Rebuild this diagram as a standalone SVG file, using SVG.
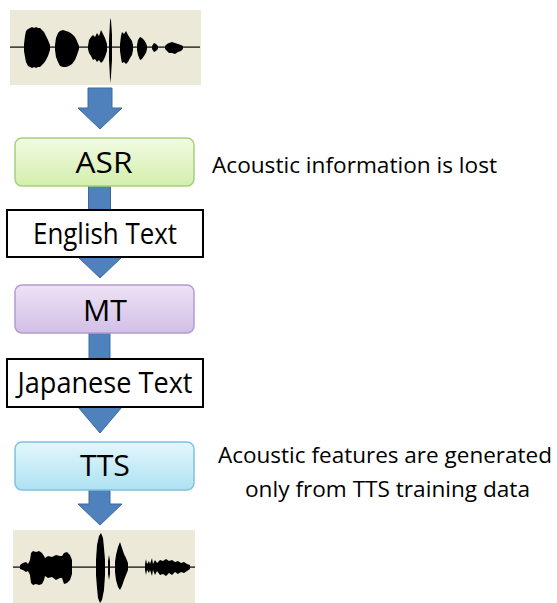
<svg xmlns="http://www.w3.org/2000/svg" width="557" height="603" viewBox="0 0 557 603">
<defs>
<linearGradient id="gAsr" x1="0" y1="0" x2="0" y2="1"><stop offset="0" stop-color="#f2fbe3"/><stop offset="1" stop-color="#d3eeac"/></linearGradient>
<linearGradient id="gMt" x1="0" y1="0" x2="0" y2="1"><stop offset="0" stop-color="#ede3f5"/><stop offset="1" stop-color="#d2bfe7"/></linearGradient>
<linearGradient id="gTts" x1="0" y1="0" x2="0" y2="1"><stop offset="0" stop-color="#e4f6fc"/><stop offset="1" stop-color="#ade2f3"/></linearGradient>
</defs>
<style>
.lbl{font-family:"Open Sans","Liberation Sans",sans-serif;font-size:29px;fill:#000;text-anchor:middle}
.side{font-family:"Open Sans","Liberation Sans",sans-serif;font-size:22px;fill:#000}
.arrow{fill:#4f81bd;stroke:#3c6a9e;stroke-width:1}
.wbg{fill:#ece9d9}
.wave{fill:#000}
.txtbox{fill:#fff;stroke:#000;stroke-width:2}
</style>
<rect width="557" height="603" fill="#fff"/>
<g id="connectors">
<path class="arrow" d="M88 88 H112 V108 H122 L100 129 L78 108 H88 Z"/>
<path class="arrow" d="M88.5 186 H110.5 V257 H122 L100 278 L78 257 H88.5 Z"/>
<path class="arrow" d="M89 333 H110 V407 H122 L100 433 L78 407 H89 Z"/>
<path class="arrow" d="M89 490 H110 V504 H122 L100 525 L78 504 H89 Z"/>
</g>
<g id="waveform-in">
<rect class="wbg" x="10" y="10" width="191" height="75"/>
<rect class="wave" x="10" y="46.5" width="190" height="1.2"/>
<path class="wave" d="M24 44 L25 36 L26 31 L28 29 L30 28 L32 27 L34 28 L36 27 L38 28 L40 28 L42 30 L44 32 L46 36 L48 40 L50 45 L50 50 L48 56 L46 60 L44 63 L42 65 L40 67 L38 67 L36 68 L34 67 L32 68 L30 67 L28 66 L26 62 L25 57 L24 51 Z"/>
<path class="wave" d="M55 45 L56 38 L58 33 L60 31 L63 30 L66 31 L69 32 L72 34 L75 37 L77 41 L79 46 L79 49 L77 55 L75 60 L72 64 L69 66 L66 67 L63 67 L60 66 L58 62 L56 57 L55 50 Z"/>
<path class="wave" d="M88 46 L89 40 L91 37 L93 35 L95 37 L97 33 L99 36 L101 30 L103 34 L105 38 L107 44 L107 51 L105 57 L103 61 L101 63 L99 60 L97 62 L95 59 L93 60 L91 56 L89 53 L88 49 Z"/>
<path class="wave" d="M109 40 L110 22 L110.5 18 L111 20 L112 35 L112 60 L111 76 L110.5 83 L110 78 L109 60 Z"/>
<path class="wave" d="M120 44 L121 36 L122 32 L124 34 L126 31 L128 35 L130 38 L132 41 L133 45 L133 50 L132 55 L130 58 L128 62 L126 64 L124 62 L122 63 L121 58 L120 51 Z"/>
<path class="wave" d="M137 45 L138 40 L140 37 L142 38 L144 40 L146 43 L147 46 L147 49 L146 53 L144 56 L142 59 L140 60 L138 55 L137 50 Z"/>
<path class="wave" d="M152 46 L154 43 L156 44 L158 46 L158 49 L156 51 L154 52 L152 49 Z"/>
<path class="wave" d="M165 46 L167 44 L169 43 L172 42 L175 43 L178 44 L181 45 L183 46 L183 49 L181 51 L178 52 L175 54 L172 53 L169 53 L167 51 L165 49 Z"/>
</g>
<g id="asr">
<rect x="15" y="138" width="179" height="48" rx="7" fill="url(#gAsr)" stroke="#a6cf7e" stroke-width="1.5"/>
<text class="lbl" x="104" y="173" textLength="57" lengthAdjust="spacingAndGlyphs">ASR</text>
</g>
<g id="note-asr">
<text class="side" x="212" y="173" textLength="285" lengthAdjust="spacingAndGlyphs">Acoustic information is lost</text>
</g>
<g id="english-text">
<rect class="txtbox" x="7" y="210" width="196" height="47"/>
<text class="lbl" x="105" y="244" textLength="144" lengthAdjust="spacingAndGlyphs">English Text</text>
</g>
<g id="mt">
<rect x="15" y="285" width="179" height="48" rx="7" fill="url(#gMt)" stroke="#b49bd1" stroke-width="1.5"/>
<text class="lbl" x="105" y="321" textLength="44" lengthAdjust="spacingAndGlyphs">MT</text>
</g>
<g id="japanese-text">
<rect class="txtbox" x="7" y="359" width="196" height="48"/>
<text class="lbl" x="105" y="393" textLength="175" lengthAdjust="spacingAndGlyphs">Japanese Text</text>
</g>
<g id="tts">
<rect x="15" y="442" width="179" height="48" rx="7" fill="url(#gTts)" stroke="#7dc4dc" stroke-width="1.5"/>
<text class="lbl" x="105" y="476" textLength="50" lengthAdjust="spacingAndGlyphs">TTS</text>
</g>
<g id="note-tts">
<text class="side" x="218" y="463" textLength="334" lengthAdjust="spacingAndGlyphs">Acoustic features are generated</text>
<text class="side" x="245" y="497" textLength="285" lengthAdjust="spacingAndGlyphs">only from TTS training data</text>
</g>
<g id="waveform-out">
<rect class="wbg" x="13" y="530" width="182" height="73"/>
<rect class="wave" x="13" y="566.5" width="182" height="1.2"/>
<path class="wave" d="M20 565 L23 563 L26 562 L28 564 L30 560 L31 553 L33 551 L36 552 L39 551 L42 553 L44 556 L45 558 L48 556 L52 557 L56 555 L60 556 L62 556 L64 553 L67 552 L70 555 L72 560 L72 574 L70 580 L67 583 L64 584 L62 578 L60 578 L56 580 L52 577 L48 578 L45 576 L44 580 L42 584 L39 585 L36 584 L33 585 L31 583 L30 575 L28 571 L26 572 L23 570 L20 569 Z"/>
<path class="wave" d="M96 560 L97 545 L99 536 L101 533 L103 538 L104 548 L105 560 L105 575 L104 590 L102 600 L100 603 L98 598 L97 588 L96 575 Z"/>
<path class="wave" d="M108 561 L109 555 L110 561 L110 574 L109 580 L108 574 Z"/>
<path class="wave" d="M115 562 L116 555 L118 547 L120 542 L122 548 L124 554 L126 558 L128 563 L128 570 L126 575 L124 580 L122 586 L120 590 L118 587 L116 580 L115 572 Z"/>
<path class="wave" d="M145 564 L146 559 L147 564 L149 561 L150 564 L152 558 L153 564 L155 560 L157 563 L160 560 L163 561 L166 559 L169 561 L172 560 L175 562 L178 561 L181 563 L184 562 L187 564 L190 565 L190 569 L187 571 L184 573 L181 572 L178 574 L175 572 L172 575 L169 573 L166 576 L163 574 L160 575 L157 571 L155 575 L153 570 L152 576 L150 570 L149 573 L147 570 L146 575 L145 570 Z"/>
</g>
</svg>
